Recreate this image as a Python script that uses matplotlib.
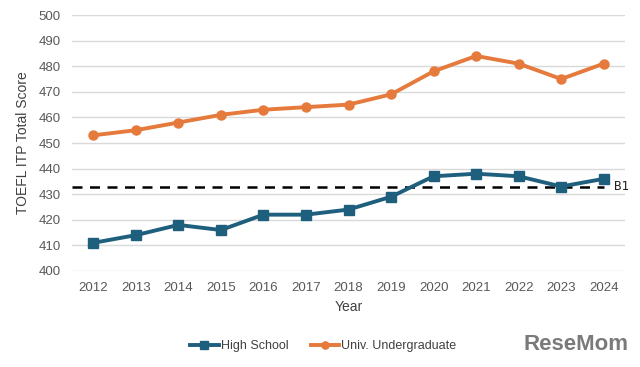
import matplotlib
matplotlib.use("Agg")
import matplotlib.pyplot as plt

years = [2012, 2013, 2014, 2015, 2016, 2017, 2018, 2019, 2020, 2021, 2022, 2023, 2024]
high_school = [411, 414, 418, 416, 422, 422, 424, 429, 437, 438, 437, 433, 436]
undergrad = [453, 455, 458, 461, 463, 464, 465, 469, 478, 484, 481, 475, 481]
b1_score = 433

plt.rcParams['font.family'] = ['Liberation Sans', 'DejaVu Sans']

fig = plt.figure(figsize=(6.4, 3.67), dpi=100)
ax = fig.add_axes([0.1125, 0.2616, 0.8641, 0.6975])

ax.plot(years, high_school, color='#1f5f7e', lw=2.8, marker='s', ms=6.5,
        label='High School', zorder=3)
ax.plot(years, undergrad, color='#e57a3c', lw=2.8, marker='o', ms=6.5,
        label='Univ. Undergraduate', zorder=3)
ax.plot([2011.5, 2024], [b1_score, b1_score], color='black', lw=1.8,
        ls=(0, (4, 3)), zorder=2)
ax.text(2024.25, b1_score, 'B1', fontsize=9, family='DejaVu Sans Mono',
        va='center', ha='left', color='#222222')

ax.set_xlim(2011.5, 2024.5)
ax.set_ylim(400, 500)
ax.set_yticks(range(400, 501, 10))
ax.set_xticks(years)
ax.grid(axis='y', color='#d9d9d9', lw=1)
ax.set_axisbelow(True)
for s in ax.spines.values():
    s.set_visible(False)
ax.tick_params(length=0, labelsize=9.5, colors='#595959', pad=8)

ax.set_xlabel('Year', fontsize=10, color='#404040', labelpad=4)
ax.set_ylabel('TOEFL ITP Total Score', fontsize=10, color='#404040', labelpad=6)

fig.legend(loc='center', bbox_to_anchor=(0.505, 0.057), ncol=2, frameon=False,
           fontsize=9, handlelength=2.3, handletextpad=0.15, columnspacing=1.8,
           markerscale=0.8, labelcolor='#404040')

fig.text(0.982, 0.06, 'ReseMom', ha='right', va='center', fontsize=16,
         fontweight='bold', color='#7a7a7a')

fig.savefig('out.png', dpi=100, facecolor='white')
